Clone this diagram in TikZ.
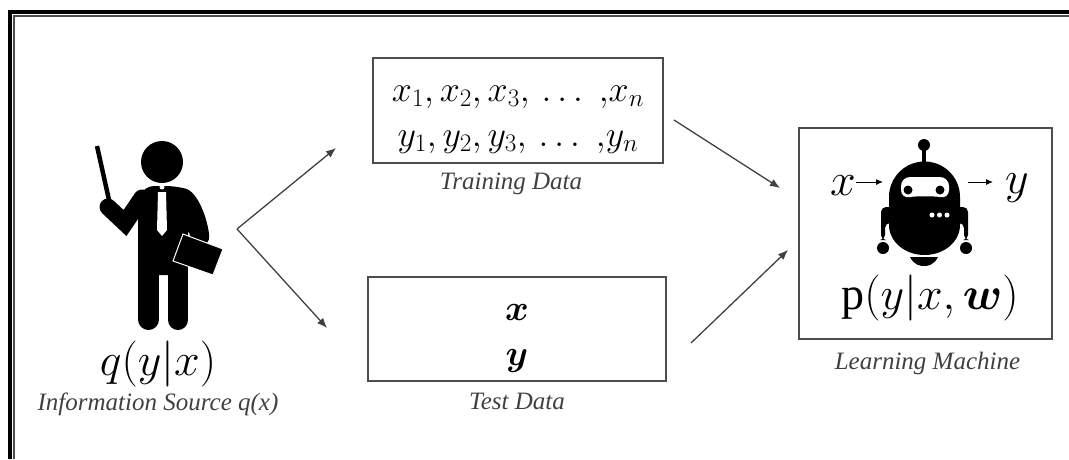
\RequirePackage{fix-cm}
\documentclass[tikz,border=0pt]{standalone}
\usepackage{amsmath}
\usepackage{bm}
\usepackage{fontspec}
\setmainfont{Liberation Serif}
\usetikzlibrary{positioning,arrows.meta}
\tikzset{
  databox/.style={rectangle,draw=black!70,line width=1.5pt,inner sep=0pt,align=center},
  bigmath/.style={font=\fontsize{36}{49}\selectfont},
  hugemath/.style={font=\fontsize{46}{50}\selectfont,inner sep=0pt},
  caption/.style={font=\fontsize{25}{28}\selectfont\itshape,text=black!75,inner sep=0pt},
  flow/.style={draw=black!75,line width=1.3pt,-{Latex[length=10pt,width=8pt]}},
  tinyflow/.style={line width=1pt,-{Latex[length=7pt,width=6pt]}},
}
\begin{document}
\begin{tikzpicture}[x=1pt,y=-1pt]
\useasboundingbox (0,0) rectangle (1069,459);
% frame
\draw[line width=4pt] (10,459) -- (10,12) -- (1069,12);
\draw[line width=2pt,black!70] (14,459) -- (14,16) -- (1069,16);
% boxes
\node [databox,bigmath,minimum width=290pt,minimum height=105pt] (train) at (518,110.5)
  {\rule{0pt}{34pt}$x_1{,}\,x_2{,}\,x_3{,}\,\dots\;{,}x_n$\\[-4pt]$y_1{,}\,y_2{,}\,y_3{,}\,\dots\;{,}y_n$};
\node [databox,bigmath,minimum width=298pt,minimum height=104pt] (test) at (517,329)
  {\rule{0pt}{34pt}$\bm{x}$\\[-4pt]$\bm{y}$};
\node [databox,minimum width=253pt,minimum height=211pt] (machine) at (925.5,233.5) {};
\node [caption, below=9pt of train,xshift=-7pt] (traincap) {Training Data};
\node [caption, below=11pt of test] (testcap) {Test Data};
\node [caption, below=12pt of machine,xshift=2pt] (machinecap) {Learning Machine};
% source
\node [hugemath] (source) at (158,364) {$q(y|x)$};
\node [caption,below=5pt of source] (sourcecap) {Information Source q(x)};
% teacher
\fill (162,162) circle (21);
\draw[line width=4.5pt] (97,146) -- (109,200);
\fill (108,207) circle (8);
\draw[line width=17pt,line cap=round] (108,207) -- (125,223) -- (142,198);
\fill[rounded corners=10pt] (138,200) -- (144,186) -- (176,186) .. controls (198,192) and (208,220) .. (210,246)
  -- (192,246) -- (188,226) -- (188,275) -- (138,275) -- cycle;
\fill[sharp corners] (138,255) rectangle (188,266);
\draw[line width=21pt,line cap=round] (148.5,262) -- (148.5,319.5);
\draw[line width=20pt,line cap=round] (178,262) -- (178,320);
\fill[white] (162,187) circle (2.5) (158,192) -- (166,192) -- (167,230) -- (162,236) -- (157,230) -- cycle;
\fill[black,draw=white,line width=1pt] (183,234) -- (223,249) -- (213,275) -- (173,261) -- cycle;
% fork
\coordinate (apex) at (237,229);
\coordinate (forkup) at (336,148);
\coordinate (forkdown) at (327,328);
\draw[flow] (apex) -- (forkup);
\draw[flow] (apex) -- (forkdown);
\coordinate (trainout) at (674,120);
\coordinate (machineup) at (780,188);
\coordinate (testout) at (691,343);
\coordinate (machinedown) at (788,250);
\draw[flow] (trainout) -- (machineup);
\draw[flow] (testout) -- (machinedown);
% robot
\draw[line width=3.5pt] (924,145) -- (924,162);
\fill (924,145) circle (6);
\fill (889,197) arc (180:360:35.5) -- (960,225) arc (0:180:35.5 and 30) -- cycle;
\fill (910,257) -- (938,257) .. controls (934,265) and (928,266) .. (924,266) .. controls (920,266) and (914,265) .. (910,257) -- cycle;
\fill[rounded corners=5pt] (881,240) -- (881,207) -- (968,207) -- (968,240) -- (964,240) -- (964,223) -- (885,223) -- (885,240) -- cycle;
\fill (883,248) circle (6) (966,248) circle (6);
\fill[white,rounded corners=9pt] (901,177) -- (949,177) -- (949,199) .. controls (935,196) and (915,196) .. (901,199) -- cycle;
\fill (908,190) circle (4.5) (940,190) circle (4.5);
\fill[white] (932,215) circle (2.5) (939.5,215) circle (2.5) (947,215) circle (2.5);
\node [hugemath] (input) at (843,186) {$x$};
\node [hugemath] (output) at (1017,188) {$y$};
\coordinate (robotin) at (883,182);
\coordinate (robotstart) at (968,182);
\coordinate (robotout) at (993,182);
\draw[tinyflow] (input.east |- robotin) -- (robotin);
\draw[tinyflow] (robotstart) -- (robotout);
\node [hugemath] (model) at (930,298) {$\mathrm{p}(y|x,\bm{w})$};
\end{tikzpicture}
\end{document}
